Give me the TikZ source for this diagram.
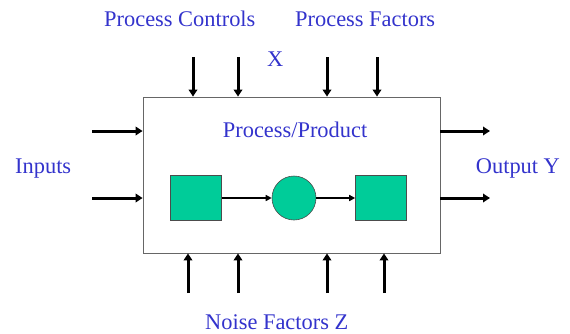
\documentclass[tikz,border=0pt]{standalone}
\usepackage{fontspec}
\setmainfont{Liberation Serif}
\usetikzlibrary{arrows.meta}
\definecolor{txtblue}{HTML}{3333CC}
\definecolor{boxgreen}{HTML}{00CC99}
\begin{document}
\begin{tikzpicture}[x=1pt,y=-1pt,
  lbl/.style={text=txtblue,font=\fontsize{22.4}{26}\selectfont,inner sep=0pt,anchor=base west},
  bigarrow/.style={line width=3pt,-{Triangle[length=7pt,width=8.5pt]}},
  smallarrow/.style={line width=1.6pt,-{Triangle[length=6pt,width=6pt]}},
  elem/.style={draw=black!70,line width=0.6pt,fill=boxgreen,inner sep=0pt}]
\useasboundingbox (0,0) rectangle (570,333);
\node[draw=black!60,line width=0.8pt,minimum width=297pt,minimum height=156pt,inner sep=0pt] (box) at (291.5,175) {};
\node[lbl] (pc) at (104,26.7) {Process Controls};
\node[lbl] (pf) at (295,26.7) {Process Factors};
\node[lbl] (x) at (267,66) {X};
\node[lbl] (pp) at (222.7,137.7) {Process/Product};
\node[lbl] (in) at (15,173.3) {Inputs};
\node[lbl] (out) at (475.7,173.3) {Output Y};
\node[lbl] (nz) at (205,329.3) {Noise Factors Z};
\node[elem,minimum width=51pt,minimum height=45.5pt] (s1) at (196,198) {};
\node[elem,circle,minimum size=44pt] (c) at (294,198) {};
\node[elem,minimum width=51pt,minimum height=45.5pt] (s2) at (381,198) {};
\draw[smallarrow] (s1) -- (c);
\draw[smallarrow] (c) -- (s2);
\foreach \i/\xx in {1/193,2/238,3/327,4/377}{
  \coordinate (t\i) at (\xx,57);
  \draw[bigarrow] (t\i) -- (t\i |- box.north);
}
\foreach \i/\xx in {1/188,2/238,3/327,4/384}{
  \coordinate (b\i) at (\xx,293);
  \draw[bigarrow] (b\i) -- (b\i |- box.south);
}
\foreach \i/\yy in {1/131,2/198}{
  \coordinate (l\i) at (92,\yy);
  \coordinate (r\i) at (490,\yy);
  \draw[bigarrow] (l\i) -- (l\i -| box.west);
  \draw[bigarrow] (r\i -| box.east) -- (r\i);
}
\end{tikzpicture}
\end{document}
